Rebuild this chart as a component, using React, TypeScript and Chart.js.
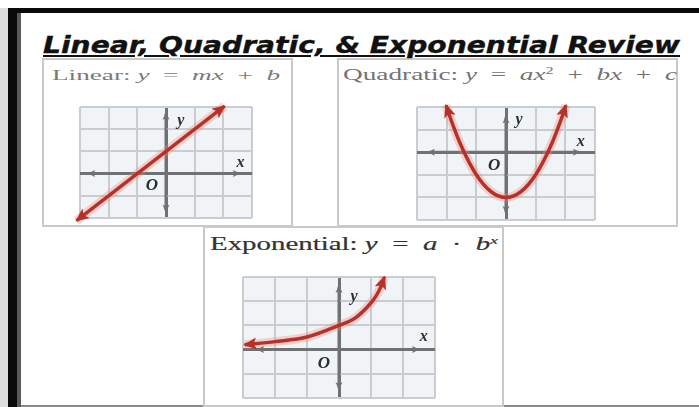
import React, { useEffect, useLayoutEffect, useRef } from "react";
import { Chart, registerables } from "chart.js";

Chart.register(...registerables);

// ---------- data ----------
const xRange = [-3, 3];

// Linear: y = x + 1
const linearYRange = [-2, 3];
const linearX = [-3.12, 2.04];
const linearY = [-2.12, 3.04];
const linearAxisX = [-2.68, 2.54];
const linearAxisY = [-1.67, 2.7];

// Quadratic: y = x^2 - 2
const quadYRange = [-3, 2];
const quadX = [-2.02, -1.85, -1.5, -1, -0.5, 0, 0.5, 1, 1.5, 1.85, 2.02];
const quadY = [2.08, 1.42, 0.25, -1, -1.75, -2, -1.75, -1, 0.25, 1.42, 2.08];
const quadAxisX = [-2.6, 2.46];
const quadAxisY = [-2.65, 1.55];

// Exponential
const expYRange = [-2, 3];
const expX = [-2.95, -2, -1, 0, 0.5, 0.9, 1.15, 1.31, 1.42];
const expY = [0.2, 0.33, 0.52, 1.0, 1.3, 1.78, 2.2, 2.6, 3.0];
const expAxisX = [-2.53, 2.47];
const expAxisY = [-1.6, 2.6];

// axis letter labels: [text, x, y]
const linearLabels: [string, number, number][] = [
  ["y", 0.52, 2.39],
  ["x", 2.6, 0.5],
  ["O", -0.49, -0.54],
];
const quadLabels: [string, number, number][] = [
  ["y", 0.44, 1.42],
  ["x", 2.52, 0.44],
  ["O", -0.4, -0.58],
];
const expLabels: [string, number, number][] = [
  ["y", 0.47, 2.19],
  ["x", 2.65, 0.54],
  ["O", -0.47, -0.58],
];

// ---------- styles ----------
const RED = "#b5312a";
const HALO = "rgba(238,130,118,0.32)";
const AXIS = "#6f7273";
const GRID = "#c9cdd1";
const GRID_BG = "#f0f4f7";

const gridBgPlugin = {
  id: "gridBg",
  beforeDraw(chart: any) {
    const { ctx, chartArea: a } = chart;
    ctx.save();
    ctx.fillStyle = GRID_BG;
    ctx.fillRect(a.left, a.top, a.right - a.left, a.bottom - a.top);
    ctx.restore();
  },
};

const arrowPlugin = {
  id: "arrowHeads",
  afterDatasetsDraw(chart: any) {
    const ctx = chart.ctx;
    chart.data.datasets.forEach((ds: any, i: number) => {
      if (!ds.arrowLen) return;
      const pts = chart.getDatasetMeta(i).data;
      if (pts.length < 2) return;
      const draw = (tip: any, prev: any) => {
        const ang = Math.atan2(tip.y - prev.y, tip.x - prev.x);
        const L = ds.arrowLen;
        const W = ds.arrowHalf;
        const c = Math.cos(ang);
        const s = Math.sin(ang);
        const bx = tip.x - L * c;
        const by = tip.y - L * s;
        ctx.save();
        ctx.fillStyle = ds.borderColor;
        ctx.beginPath();
        ctx.moveTo(tip.x + 1.5 * c, tip.y + 1.5 * s);
        ctx.lineTo(bx - W * s, by + W * c);
        ctx.lineTo(bx + 0.25 * L * c, by + 0.25 * L * s);
        ctx.lineTo(bx + W * s, by - W * c);
        ctx.closePath();
        ctx.fill();
        ctx.restore();
      };
      draw(pts[pts.length - 1], pts[pts.length - 2]);
      draw(pts[0], pts[1]);
    });
  },
};

const letterPlugin = {
  id: "axisLetters",
  afterDraw(chart: any) {
    const labels = chart.options.plugins.axisLetters?.labels || [];
    const { ctx, scales } = chart;
    ctx.save();
    ctx.fillStyle = "#27302d";
    ctx.textAlign = "center";
    ctx.textBaseline = "middle";
    labels.forEach(([t, x, y]: [string, number, number]) => {
      ctx.font =
        t === "O"
          ? "italic bold 17px 'Liberation Serif'"
          : "italic bold 16px 'Liberation Serif'";
      ctx.fillText(t, scales.x.getPixelForValue(x), scales.y.getPixelForValue(y));
    });
    ctx.restore();
  },
};

type Area = { left: number; top: number; width: number; height: number };

const PAD = 12;

function Graph(props: {
  area: Area;
  yRange: number[];
  cx: number[];
  cy: number[];
  axX: number[];
  axY: number[];
  labels: [string, number, number][];
  smooth: boolean;
}) {
  const ref = useRef<HTMLCanvasElement>(null);
  const { area, yRange, cx, cy, axX, axY, labels, smooth } = props;
  useEffect(() => {
    const curve = cx.map((x, i) => ({ x, y: cy[i] }));
    const axisScale = (isX: boolean, range: number[]) => ({
      type: "linear" as const,
      min: range[0],
      max: range[1],
      ticks: { display: false, stepSize: 1 },
      border: { display: false },
      grid: {
        drawTicks: false,
        color: (c: any) => (c.tick && c.tick.value === 0 ? AXIS : GRID),
        lineWidth: (c: any) => (c.tick && c.tick.value === 0 ? 3 : 2),
      },
      afterFit: (s: any) => {
        if (isX) s.height = 0;
        else s.width = 0;
      },
    });
    const curveStyle = smooth
      ? { cubicInterpolationMode: "monotone" as const }
      : { tension: 0 };
    const chart = new Chart(ref.current as HTMLCanvasElement, {
      type: "line",
      data: {
        datasets: [
          {
            data: curve,
            borderColor: RED,
            borderWidth: 3.5,
            pointRadius: 0,
            ...curveStyle,
            clip: false,
            arrowLen: 12,
            arrowHalf: 6,
          } as any,
          {
            data: curve,
            borderColor: HALO,
            borderWidth: 9,
            pointRadius: 0,
            ...curveStyle,
            clip: false,
          },
          {
            data: axX.map((x) => ({ x, y: 0 })),
            borderColor: AXIS,
            borderWidth: 3,
            pointRadius: 0,
            clip: false,
            arrowLen: 6,
            arrowHalf: 3.5,
          } as any,
          {
            data: axY.map((y) => ({ x: 0, y })),
            borderColor: AXIS,
            borderWidth: 3,
            pointRadius: 0,
            clip: false,
            arrowLen: 6,
            arrowHalf: 3.5,
          } as any,
        ],
      },
      options: {
        responsive: false,
        animation: false,
        devicePixelRatio: 1,
        layout: { padding: PAD },
        events: [],
        plugins: {
          legend: { display: false },
          tooltip: { enabled: false },
          axisLetters: { labels },
        } as any,
        scales: {
          x: axisScale(true, xRange),
          y: axisScale(false, yRange),
        },
      },
      plugins: [gridBgPlugin, arrowPlugin, letterPlugin],
    });
    return () => chart.destroy();
  }, []);
  const w = area.width + 2 * PAD;
  const h = area.height + 2 * PAD;
  return (
    <canvas
      ref={ref}
      width={w}
      height={h}
      style={{
        position: "absolute",
        left: area.left - PAD,
        top: area.top - PAD,
        width: w,
        height: h,
      }}
    />
  );
}

function FitText(props: {
  left: number;
  top: number;
  width: number;
  size: number;
  family: string;
  color: string;
  weight?: string;
  fstyle?: string;
  underline?: boolean;
  stroke?: string;
  children: React.ReactNode;
}) {
  const ref = useRef<HTMLDivElement>(null);
  useLayoutEffect(() => {
    const el = ref.current as HTMLDivElement;
    el.style.transform = "none";
    const w = el.getBoundingClientRect().width;
    if (w > 0) el.style.transform = `scaleX(${props.width / w})`;
  }, []);
  return (
    <div
      ref={ref}
      style={{
        position: "absolute",
        left: props.left,
        top: props.top,
        fontSize: props.size,
        lineHeight: `${props.size}px`,
        fontFamily: props.family,
        color: props.color,
        fontWeight: props.weight || "normal",
        fontStyle: props.fstyle || "normal",
        whiteSpace: "nowrap",
        transformOrigin: "0 0",
        textDecoration: props.underline ? "underline" : "none",
        textDecorationThickness: props.underline ? "2px" : undefined,
        textUnderlineOffset: props.underline ? "2px" : undefined,
        WebkitTextStroke: props.stroke,
      }}
    >
      {props.children}
    </div>
  );
}

const sup: React.CSSProperties = {
  fontSize: "0.6em",
  verticalAlign: "0.55em",
  lineHeight: 0,
};

const panel = (left: number, top: number, width: number, height: number): React.CSSProperties => ({
  position: "absolute",
  left,
  top,
  width,
  height,
  boxSizing: "border-box",
  border: "2px solid #c9c9c9",
  background: "#ffffff",
});

export default function App() {
  const SERIF = "'Liberation Serif', 'DejaVu Serif', serif";
  return (
    <div
      style={{
        position: "absolute",
        left: 0,
        top: 0,
        width: 699,
        height: 407,
        background: "#ffffff",
        overflow: "hidden",
      }}
    >
      {/* frame */}
      <div style={{ position: "absolute", left: 0, top: 8, width: 8, height: 399, background: "#dedede" }} />
      <div style={{ position: "absolute", left: 8, top: 8, width: 691, height: 5, background: "#0a0a0a" }} />
      <div style={{ position: "absolute", left: 8, top: 8, width: 9, height: 399, background: "#0a0a0a" }} />
      <div style={{ position: "absolute", left: 17, top: 13, width: 4, height: 394, background: "#5a5a5a" }} />
      <div style={{ position: "absolute", left: 21, top: 405, width: 678, height: 2, background: "#8a8a8a" }} />

      {/* panels */}
      <div style={panel(42, 58, 251, 169)} />
      <div style={panel(337, 58, 341, 169)} />
      <div style={panel(203, 226, 301, 181)} />

      {/* title */}
      <FitText left={43} top={34} width={637} size={23} family="'DejaVu Sans', sans-serif" color="#111" weight="bold" fstyle="italic" underline stroke="0.4px #111">
        Linear, Quadratic, &amp; Exponential Review
      </FitText>

      {/* panel labels */}
      <FitText left={52} top={68} width={228} size={15} family={SERIF} color="#7a7a7a">
        Linear: <i>y</i>{"\u2002=\u2002"}<i>mx</i>{"\u2002+\u2002"}<i>b</i>
      </FitText>
      <FitText left={343} top={66} width={334} size={17} family={SERIF} color="#737373">
        Quadratic: <i>y</i>{"\u2002=\u2002"}<i>ax</i><span style={sup}>2</span>{"\u2002+\u2002"}<i>bx</i>{"\u2002+\u2002"}<i>c</i>
      </FitText>
      <FitText left={210} top={234} width={288} size={19} family={SERIF} color="#333333" stroke="0.2px #333">
        Exponential: <i>y</i>{"\u2002=\u2002"}<i>a</i>{"\u2002·\u2002"}<i>b</i><span style={sup}><i>x</i></span>
      </FitText>

      {/* graphs */}
      <Graph
        area={{ left: 80, top: 107, width: 172, height: 111 }}
        yRange={linearYRange}
        cx={linearX}
        cy={linearY}
        axX={linearAxisX}
        axY={linearAxisY}
        labels={linearLabels}
        smooth={false}
      />
      <Graph
        area={{ left: 417, top: 107, width: 178, height: 113 }}
        yRange={quadYRange}
        cx={quadX}
        cy={quadY}
        axX={quadAxisX}
        axY={quadAxisY}
        labels={quadLabels}
        smooth={true}
      />
      <Graph
        area={{ left: 243, top: 277, width: 192, height: 121 }}
        yRange={expYRange}
        cx={expX}
        cy={expY}
        axX={expAxisX}
        axY={expAxisY}
        labels={expLabels}
        smooth={true}
      />
    </div>
  );
}
